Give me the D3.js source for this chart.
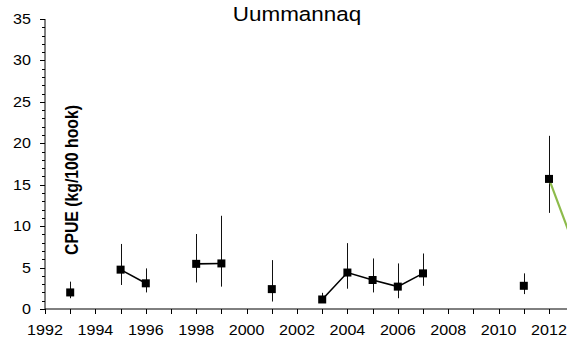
<!DOCTYPE html>
<html>
<head>
<meta charset="utf-8">
<script src="https://cdn.jsdelivr.net/npm/d3@7"></script>
<style>
  body { margin: 0; background: #fff; }
  svg { display: block; font-family: Arial, "Liberation Sans", sans-serif; }
</style>
</head>
<body>
<div id="container"></div>
<script>
// survey years and CPUE values (kg/100 hook)
const years = [1993, 1995, 1996, 1998, 1999, 2001, 2003, 2004, 2005, 2006, 2007, 2011, 2012]
const cpue = [2.0, 4.75, 3.1, 5.45, 5.5, 2.4, 1.15, 4.4, 3.5, 2.7, 4.3, 2.8, 15.7]
const errLow = [1.3, 2.9, 2.0, 3.2, 2.7, 0.9, 0.9, 2.45, 2.0, 1.3, 2.8, 1.8, 11.6]
const errHigh = [3.3, 7.85, 4.9, 9.05, 11.25, 5.9, 1.95, 7.95, 6.1, 5.5, 6.7, 4.3, 20.9]
// connected runs of consecutive years
const runs = [[1995, 1996], [1998, 1999], [2003, 2004, 2005, 2006, 2007]]
// green series, starting at 2012
const greenYears = [2012, 2013]
const greenValues = [15.7, 7.6]
const yTicks = [0, 5, 10, 15, 20, 25, 30, 35]
const xTicks = [1992, 1994, 1996, 1998, 2000, 2002, 2004, 2006, 2008, 2010, 2012]

const width = 567
const height = 345
const stretch = 1.15 // text in the picture is a bit wider than tall

const svg = d3.select('#container')
  .append('svg')
  .attr('width', width)
  .attr('height', height)

const x = d3.scaleLinear().domain([1992, 2013]).range([45, 574.2])
const y = d3.scaleLinear().domain([0, 35]).range([309, 19])

// y axis
const yAxis = svg.append('g').attr('transform', 'translate(45,0)')
yAxis.append('line')
  .attr('x1', 0).attr('x2', 0)
  .attr('y1', y(0)).attr('y2', y(35))
  .attr('stroke', '#000')
yAxis.selectAll('.minor')
  .data(d3.range(0, 36))
  .enter()
  .append('line')
  .attr('x1', d => yTicks.includes(d) ? -5 : -3)
  .attr('x2', 0)
  .attr('y1', d => Math.round(y(d)) + 0.5)
  .attr('y2', d => Math.round(y(d)) + 0.5)
  .attr('stroke', '#000')
yAxis.selectAll('.ylab')
  .data(yTicks)
  .enter()
  .append('text')
  .attr('transform', d => `translate(-14,${y(d) + 5}) scale(${stretch},1)`)
  .attr('text-anchor', 'end')
  .attr('font-size', 14)
  .text(d => d)

// x axis
const xAxis = svg.append('g').attr('transform', `translate(0,${y(0)})`)
xAxis.append('line')
  .attr('x1', 45).attr('x2', width)
  .attr('y1', 0).attr('y2', 0)
  .attr('stroke', '#000')
xAxis.selectAll('.xtick')
  .data(d3.range(1992, 2014))
  .enter()
  .append('line')
  .attr('x1', d => Math.round(x(d)) + 0.5)
  .attr('x2', d => Math.round(x(d)) + 0.5)
  .attr('y1', 0).attr('y2', 5)
  .attr('stroke', '#000')
xAxis.selectAll('.xlab')
  .data(xTicks)
  .enter()
  .append('text')
  .attr('transform', d => `translate(${x(d)},26) scale(${stretch},1)`)
  .attr('text-anchor', 'middle')
  .attr('font-size', 14)
  .text(d => d)

// title and axis title
svg.append('text')
  .attr('transform', `translate(297,21) scale(${stretch},1)`)
  .attr('text-anchor', 'middle')
  .attr('font-size', 19.5)
  .text('Uummannaq')

svg.append('text')
  .attr('transform', `translate(78,180) scale(${stretch},1) rotate(-90)`)
  .attr('text-anchor', 'middle')
  .attr('font-size', 15.8)
  .attr('font-weight', 'bold')
  .text('CPUE (kg/100 hook)')

const plot = svg.append('g')

// error bars
plot.selectAll('.err')
  .data(years)
  .enter()
  .append('line')
  .attr('x1', d => Math.round(x(d)) + 0.5)
  .attr('x2', d => Math.round(x(d)) + 0.5)
  .attr('y1', (d, i) => y(errLow[i]))
  .attr('y2', (d, i) => y(errHigh[i]))
  .attr('stroke', '#111')
  .attr('stroke-width', 1)

// black connecting lines
const line = d3.line()
  .x(d => x(d))
  .y(d => y(cpue[years.indexOf(d)]))
plot.selectAll('.run')
  .data(runs)
  .enter()
  .append('path')
  .attr('d', line)
  .attr('fill', 'none')
  .attr('stroke', '#000')
  .attr('stroke-width', 1.6)

// green line
const greenLine = d3.line()
  .x((d, i) => x(greenYears[i]))
  .y(d => y(d))
plot.append('path')
  .attr('d', greenLine(greenValues))
  .attr('fill', 'none')
  .attr('stroke', '#8DBB4B')
  .attr('stroke-width', 2.2)

// square markers
const size = 8
plot.selectAll('.pt')
  .data(years)
  .enter()
  .append('rect')
  .attr('x', d => x(d) - size / 2)
  .attr('y', (d, i) => y(cpue[i]) - size / 2)
  .attr('width', size)
  .attr('height', size)
  .attr('fill', '#000')
</script>
</body>
</html>
